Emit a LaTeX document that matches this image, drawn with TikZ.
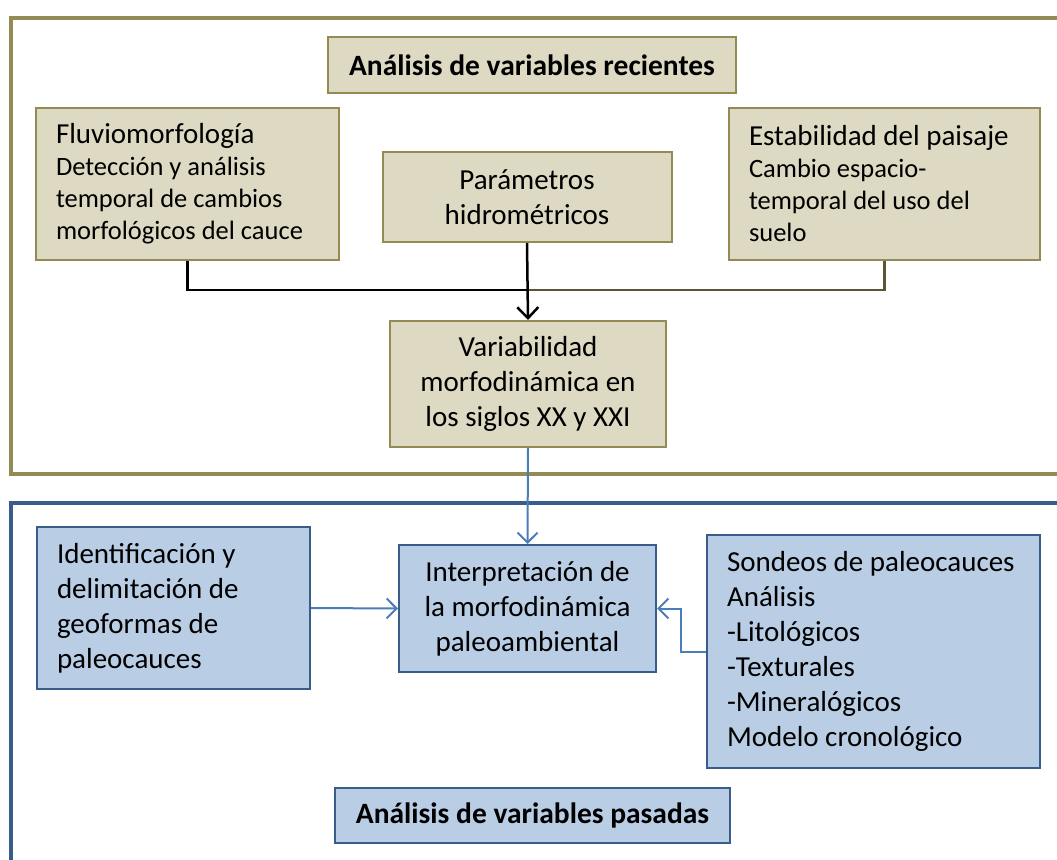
\documentclass[tikz,border=0pt]{standalone}
\usepackage{fontspec}
\setmainfont{Carlito}
\usetikzlibrary{arrows.meta}
\definecolor{olivefr}{HTML}{948A54}
\definecolor{olivefill}{HTML}{DDD9C3}
\definecolor{bluefr}{HTML}{385D8A}
\definecolor{bluefill}{HTML}{B9CDE5}
\definecolor{bluearr}{HTML}{4A7EBB}
\definecolor{darkolive}{HTML}{5A5536}
\begin{document}
\begin{tikzpicture}[x=1pt,y=-1pt,
  obox/.style={draw=olivefr, fill=olivefill, line width=2pt, inner ysep=0pt},
  bbox/.style={draw=bluefr, fill=bluefill, line width=2pt, inner ysep=0pt},
  bigtxt/.style={font=\fontsize{29}{35}\selectfont},
  smalltxt/.style={font=\fontsize{26.5}{32}\selectfont},
  boldtxt/.style={font=\fontsize{29.5}{35}\selectfont\bfseries},
  lefttxt/.style={align=flush left, inner xsep=20pt},
  blackline/.style={line width=2.5pt, line join=miter},
  bluearrow/.style={draw=bluearr, line width=2pt, -{Straight Barb[length=10pt,width=20pt]}},
  frameolive/.style={draw=olivefr, line width=4.5pt},
  frameblue/.style={draw=bluefr, line width=4.5pt}
]
\useasboundingbox (0,0) rectangle (1057,859);
\clip (0,0) rectangle (1057,859);
\fill[white] (0,0) rectangle (1057,859);

% frames
\draw[frameolive] (11,18) rectangle (1070,474);
\draw[frameblue] (11,503) rectangle (1070,880);

% top part
\node[obox, boldtxt, minimum width=408pt, minimum height=56pt, align=center] (title1) at (532,65) {Análisis de variables recientes};

\node[obox, smalltxt, lefttxt, text width=263pt, minimum height=152pt] (fluvio) at (187.5,184)
  {{\fontsize{29}{35}\selectfont Fluviomorfología}\\
   Detección y análisis\\temporal de cambios\\morfológicos del cauce};

\node[obox, bigtxt, minimum width=289pt, minimum height=90pt, align=center] (param) at (527,197)
  {Parámetros\\hidrométricos};

\node[obox, smalltxt, lefttxt, text width=271pt, minimum height=152pt] (estab) at (884.5,184)
  {{\fontsize{29}{35}\selectfont Estabilidad del paisaje}\\
   Cambio espacio-\\temporal del uso del\\suelo};

\node[obox, bigtxt, minimum width=276pt, minimum height=126pt, align=center] (var) at (528,384)
  {Variabilidad\\morfodinámica en\\los siglos XX y XXI};

\coordinate (join) at (527,290);
\draw[blackline] (fluvio.south) |- (join);
\draw[blackline, draw=darkolive] (estab.south) |- (join);
\draw[blackline, -{Straight Barb[length=11pt,width=21pt]}] (param.south) -- (var.north);

% bottom part
\node[bbox, bigtxt, minimum width=257pt, minimum height=127pt, align=center] (interp) at (527.5,608.5)
  {Interpretación de\\la morfodinámica\\paleoambiental};

\node[bbox, bigtxt, lefttxt, text width=233pt, minimum height=162pt] (ident) at (173.5,608)
  {Identificación y\\delimitación de\\geoformas de\\paleocauces};

\node[bbox, bigtxt, lefttxt, text width=293pt, minimum height=233pt] (sondeos) at (873.5,651.5)
  {\mbox{Sondeos de paleocauces}\\Análisis\\-Litológicos\\-Texturales\\-Mineralógicos\\Modelo cronológico};

\node[bbox, boldtxt, minimum width=395pt, minimum height=55pt, align=center] (title2) at (532.5,815.5)
  {Análisis de variables pasadas};

\coordinate (bend) at (681,608.5);
\draw[bluearrow] (var.south) -- (interp.north);
\draw[bluearrow] (ident.east) -- (interp.west);
\draw[bluearrow] (sondeos.west) -| (bend) -- (interp.east);
\end{tikzpicture}
\end{document}
